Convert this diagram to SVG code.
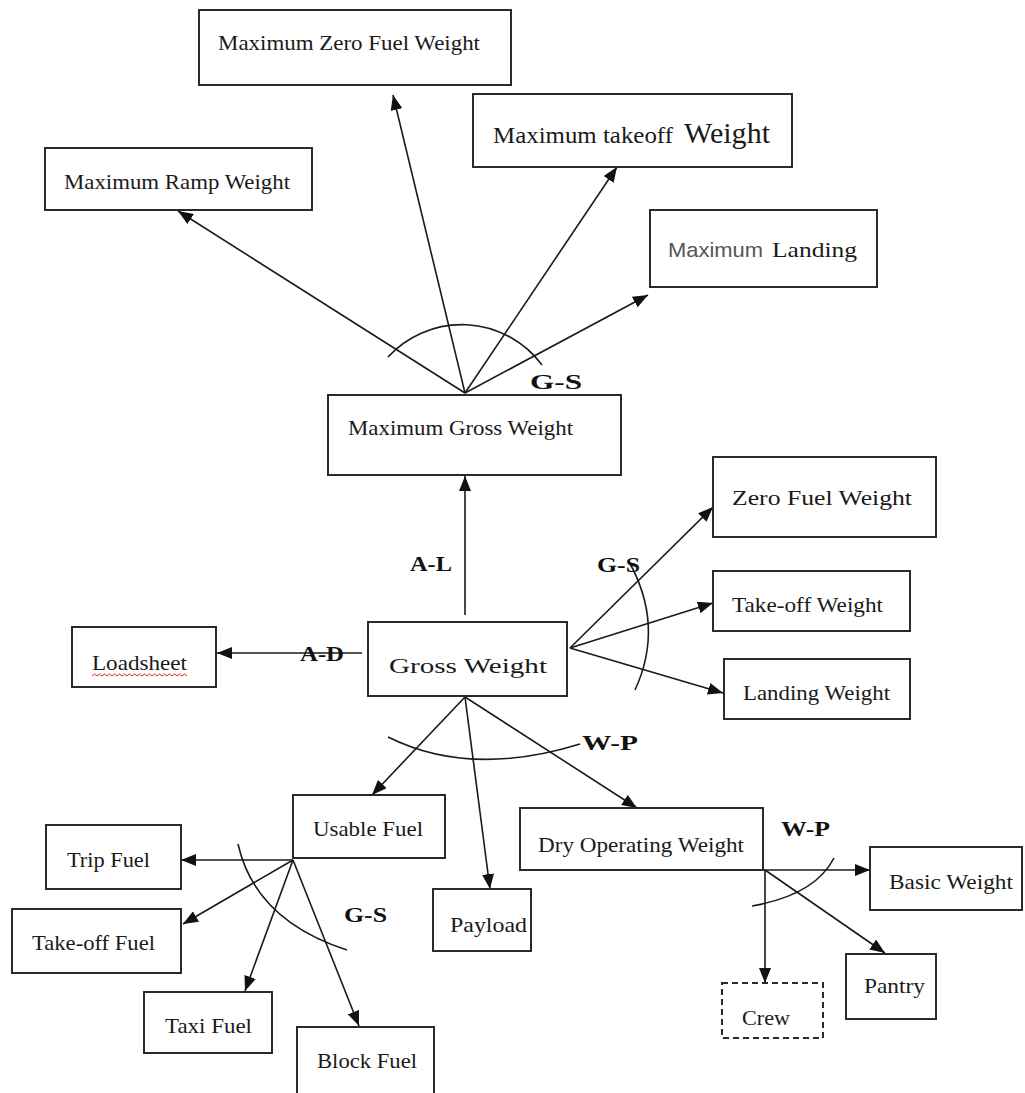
<svg xmlns="http://www.w3.org/2000/svg" width="1025" height="1093" viewBox="0 0 1025 1093">
  <defs>
    <marker id="arrow" markerUnits="userSpaceOnUse" markerWidth="16" markerHeight="12" refX="15" refY="6" orient="auto">
      <path d="M0,0 L15,6 L0,12 z" fill="#111"/>
    </marker>
    <style>
      .box { fill: #fff; stroke: #2a2a2a; stroke-width: 2; }
      .dash { stroke-dasharray: 6 4; }
      .t { font-family: "Liberation Serif", "Times New Roman", serif; font-size: 22px; fill: #1a1a1a; }
      .lbl { font-family: "Liberation Serif", "Times New Roman", serif; font-size: 20px; font-weight: bold; fill: #111; }
      .c { fill: none; stroke: #1a1a1a; stroke-width: 1.6; }
      .a { marker-end: url(#arrow); }
    </style>
  </defs>
  <rect width="1025" height="1093" fill="#fff"/>

  <!-- connectors -->
  <g id="connectors">
    <!-- from Maximum Gross Weight -->
    <path class="c a" d="M465,393 L178,211"/>
    <path class="c a" d="M465,393 L393,95"/>
    <path class="c a" d="M465,393 L617,167"/>
    <path class="c a" d="M465,393 L648,295"/>
    <path class="c" d="M388,357 A100,100 0 0 1 542,365"/>
    <!-- Gross Weight up / left -->
    <path class="c a" d="M465,615 L465,476"/>
    <path class="c a" d="M362,653 L217,653"/>
    <!-- Gross Weight right -->
    <path class="c a" d="M570,648 L713,507"/>
    <path class="c a" d="M570,648 L713,603"/>
    <path class="c a" d="M570,648 L723,693"/>
    <path class="c" d="M628,560 Q665,625 635,690"/>
    <!-- Gross Weight down -->
    <path class="c a" d="M465,697 L372,795"/>
    <path class="c a" d="M465,697 L490,889"/>
    <path class="c a" d="M465,697 L637,808"/>
    <path class="c" d="M388,737 Q470,778 580,744"/>
    <!-- Usable Fuel -->
    <path class="c a" d="M293,860 L181,860"/>
    <path class="c a" d="M293,860 L183,924"/>
    <path class="c a" d="M293,860 L245,991"/>
    <path class="c a" d="M293,860 L359,1026"/>
    <path class="c" d="M238,844 Q255,920 347,950"/>
    <!-- Dry Operating Weight -->
    <path class="c a" d="M763,870 L870,870"/>
    <path class="c a" d="M765,870 L765,983"/>
    <path class="c a" d="M765,870 L885,953"/>
    <path class="c" d="M752,906 Q815,895 834,858"/>
  </g>

  <!-- connector labels -->
  <g id="labels">
    <text class="lbl" x="530" y="389" textLength="52" lengthAdjust="spacingAndGlyphs">G-S</text>
    <text class="lbl" x="410" y="571" textLength="42" lengthAdjust="spacingAndGlyphs">A-L</text>
    <text class="lbl" x="597" y="572" textLength="43" lengthAdjust="spacingAndGlyphs">G-S</text>
    <text class="lbl" x="300" y="661" textLength="44" lengthAdjust="spacingAndGlyphs">A-D</text>
    <text class="lbl" x="582" y="750" textLength="56" lengthAdjust="spacingAndGlyphs">W-P</text>
    <text class="lbl" x="344" y="922" textLength="43" lengthAdjust="spacingAndGlyphs">G-S</text>
    <text class="lbl" x="781" y="836" textLength="49" lengthAdjust="spacingAndGlyphs">W-P</text>
  </g>

  <!-- nodes -->
  <g id="n-mzfw">
    <rect class="box" x="199" y="10" width="312" height="75"/>
    <text class="t" x="218" y="50" textLength="262" lengthAdjust="spacingAndGlyphs">Maximum Zero Fuel Weight</text>
  </g>
  <g id="n-mtow">
    <rect class="box" x="473" y="94" width="319" height="73"/>
    <text class="t" x="493" y="143"><tspan font-size="24" textLength="180" lengthAdjust="spacingAndGlyphs">Maximum takeoff</tspan><tspan x="684" font-size="29" textLength="86" lengthAdjust="spacingAndGlyphs">Weight</tspan></text>
  </g>
  <g id="n-mrw">
    <rect class="box" x="45" y="148" width="267" height="62"/>
    <text class="t" x="64" y="189" textLength="226" lengthAdjust="spacingAndGlyphs">Maximum Ramp Weight</text>
  </g>
  <g id="n-mlw">
    <rect class="box" x="650" y="210" width="227" height="77"/>
    <text x="668" y="257" font-family="'Liberation Sans', Arial, sans-serif" font-size="21" fill="#555" textLength="95" lengthAdjust="spacingAndGlyphs">Maximum</text>
    <text class="t" x="772" y="257" font-size="25" textLength="85" lengthAdjust="spacingAndGlyphs">Landing</text>
  </g>
  <g id="n-mgw">
    <rect class="box" x="328" y="395" width="293" height="80"/>
    <text class="t" x="348" y="435" textLength="225" lengthAdjust="spacingAndGlyphs">Maximum Gross Weight</text>
  </g>
  <g id="n-zfw">
    <rect class="box" x="713" y="457" width="223" height="80"/>
    <text class="t" x="732" y="505" font-size="24" textLength="180" lengthAdjust="spacingAndGlyphs">Zero Fuel  Weight</text>
  </g>
  <g id="n-tow">
    <rect class="box" x="713" y="571" width="197" height="60"/>
    <text class="t" x="732" y="612" textLength="151" lengthAdjust="spacingAndGlyphs">Take-off Weight</text>
  </g>
  <g id="n-lw">
    <rect class="box" x="724" y="659" width="186" height="60"/>
    <text class="t" x="743" y="700" textLength="147" lengthAdjust="spacingAndGlyphs">Landing Weight</text>
  </g>
  <g id="n-gw">
    <rect class="box" x="368" y="622" width="199" height="74"/>
    <text class="t" x="389" y="673" font-size="27" textLength="158" lengthAdjust="spacingAndGlyphs">Gross  Weight</text>
  </g>
  <g id="n-loadsheet">
    <rect class="box" x="72" y="627" width="144" height="60"/>
    <text class="t" x="92" y="670" textLength="95" lengthAdjust="spacingAndGlyphs">Loadsheet</text>
    <path d="M92,676 l2.5,-2 l2.5,2 l2.5,-2 l2.5,2 l2.5,-2 l2.5,2 l2.5,-2 l2.5,2 l2.5,-2 l2.5,2 l2.5,-2 l2.5,2 l2.5,-2 l2.5,2 l2.5,-2 l2.5,2 l2.5,-2 l2.5,2 l2.5,-2 l2.5,2 l2.5,-2 l2.5,2 l2.5,-2 l2.5,2 l2.5,-2 l2.5,2 l2.5,-2 l2.5,2 l2.5,-2 l2.5,2 l2.5,-2 l2.5,2 l2.5,-2 l2.5,2 l2.5,-2 l2.5,2 l2.5,-2 l2.5,2" fill="none" stroke="#e02020" stroke-width="1"/>
  </g>
  <g id="n-usable">
    <rect class="box" x="293" y="795" width="152" height="63"/>
    <text class="t" x="313" y="836" textLength="110" lengthAdjust="spacingAndGlyphs">Usable Fuel</text>
  </g>
  <g id="n-trip">
    <rect class="box" x="46" y="825" width="135" height="64"/>
    <text class="t" x="67" y="867" textLength="83" lengthAdjust="spacingAndGlyphs">Trip Fuel</text>
  </g>
  <g id="n-tof">
    <rect class="box" x="12" y="909" width="169" height="64"/>
    <text class="t" x="32" y="950" textLength="123" lengthAdjust="spacingAndGlyphs">Take-off Fuel</text>
  </g>
  <g id="n-taxi">
    <rect class="box" x="144" y="992" width="128" height="61"/>
    <text class="t" x="165" y="1033" textLength="87" lengthAdjust="spacingAndGlyphs">Taxi Fuel</text>
  </g>
  <g id="n-block">
    <rect class="box" x="297" y="1027" width="137" height="80"/>
    <text class="t" x="317" y="1068" textLength="100" lengthAdjust="spacingAndGlyphs">Block Fuel</text>
  </g>
  <g id="n-payload">
    <rect class="box" x="433" y="889" width="98" height="62"/>
    <text class="t" x="450" y="932" textLength="77" lengthAdjust="spacingAndGlyphs">Payload</text>
  </g>
  <g id="n-dow">
    <rect class="box" x="520" y="808" width="243" height="62"/>
    <text class="t" x="538" y="852" textLength="206" lengthAdjust="spacingAndGlyphs">Dry Operating Weight</text>
  </g>
  <g id="n-basic">
    <rect class="box" x="870" y="847" width="152" height="63"/>
    <text class="t" x="889" y="889" textLength="124" lengthAdjust="spacingAndGlyphs">Basic Weight</text>
  </g>
  <g id="n-pantry">
    <rect class="box" x="846" y="954" width="90" height="65"/>
    <text class="t" x="864" y="993" textLength="61" lengthAdjust="spacingAndGlyphs">Pantry</text>
  </g>
  <g id="n-crew">
    <rect class="box dash" x="722" y="983" width="101" height="55"/>
    <text class="t" x="742" y="1025" textLength="48" lengthAdjust="spacingAndGlyphs">Crew</text>
  </g>
</svg>
